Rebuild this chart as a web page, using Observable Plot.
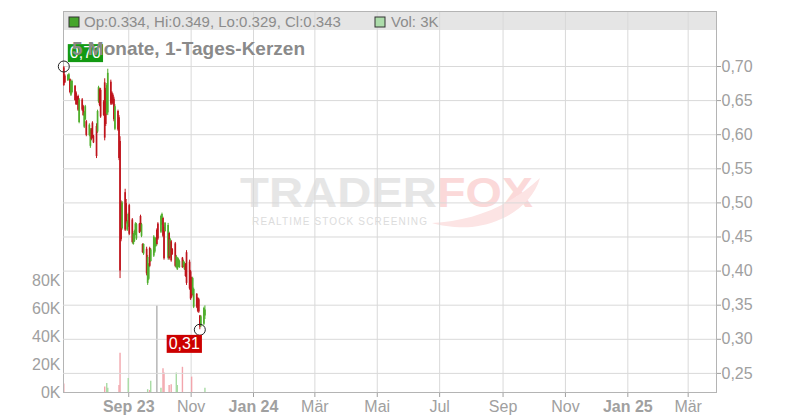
<!DOCTYPE html>
<html><head><meta charset="utf-8">
<script src="https://cdn.jsdelivr.net/npm/d3@7"></script>
<script src="https://cdn.jsdelivr.net/npm/@observablehq/plot@0.6"></script>
<style>
body{margin:0;background:#fff;font-family:"Liberation Sans",Arial,sans-serif}
#wrap{position:relative;width:800px;height:420px;overflow:hidden}
#wrap > svg{position:absolute;left:0;top:0}
</style></head><body><div id="wrap"></div>
<script>
// ---- data ----
const dates = [
"2023-06-29","2023-06-30",
"2023-07-03","2023-07-04","2023-07-05","2023-07-06","2023-07-07","2023-07-10","2023-07-11","2023-07-12","2023-07-13","2023-07-14","2023-07-17","2023-07-18","2023-07-19","2023-07-20","2023-07-21","2023-07-24","2023-07-25","2023-07-26","2023-07-27","2023-07-28","2023-07-31",
"2023-08-01","2023-08-02","2023-08-03","2023-08-04","2023-08-07","2023-08-08","2023-08-09","2023-08-10","2023-08-11","2023-08-14","2023-08-15","2023-08-16","2023-08-17","2023-08-18","2023-08-21","2023-08-22","2023-08-23","2023-08-24","2023-08-25","2023-08-28","2023-08-29","2023-08-30","2023-08-31",
"2023-09-01","2023-09-04","2023-09-05","2023-09-06","2023-09-07","2023-09-08","2023-09-11","2023-09-12","2023-09-13","2023-09-14","2023-09-15","2023-09-18","2023-09-19","2023-09-20","2023-09-21","2023-09-22","2023-09-25","2023-09-26","2023-09-27","2023-09-28","2023-09-29",
"2023-10-02","2023-10-03","2023-10-04","2023-10-05","2023-10-06","2023-10-09","2023-10-10","2023-10-11","2023-10-12","2023-10-13","2023-10-16","2023-10-17","2023-10-18","2023-10-19","2023-10-20","2023-10-23","2023-10-24","2023-10-25","2023-10-26","2023-10-27","2023-10-30","2023-10-31",
"2023-11-01","2023-11-02","2023-11-03","2023-11-06","2023-11-07","2023-11-08","2023-11-09","2023-11-10","2023-11-13","2023-11-14"];

const open = [.698,.686,.679,.681,.681,.658,.662,.671,.661,.655, .656,.618,.651,.641,.611,.622,.619,.599,.583,.607,
 .617,.598,.612,.604,.648,.666,.665,.648,.676,.665, .630,.632,.677,.661,.658,.652,.608,.634,.625,.590,
 .500,.462,.515,.499,.460,.466,.496,.475,.439,.443, .454,.447,.469,.480,.451,.439,.425,.432,.382,.388,
 .433,.414,.422,.428,.436,.460,.469,.457,.468,.477, .464,.458,.419,.455,.421,.443,.432,.440,.405,.402,
 .406,.405,.419,.406,.402,.410,.427,.413,.399,.389, .366,.347,.366,.360,.358,.334,.319,.322,.334];
const high = [.700,.688,.688,.690,.682,.680,.680,.672,.663,.656, .658,.653,.653,.643,.634,.643,.621,.616,.609,.609,
 .619,.599,.616,.636,.671,.668,.668,.650,.682,.668, .675,.696,.680,.663,.660,.655,.644,.636,.628,.597,
 .503,.502,.520,.505,.474,.485,.498,.477,.455,.460, .471,.470,.470,.482,.470,.440,.440,.435,.423,.411,
 .435,.433,.452,.449,.449,.462,.471,.482,.485,.479, .467,.471,.470,.457,.448,.445,.433,.442,.423,.420,
 .419,.416,.420,.416,.413,.411,.430,.416,.401,.391, .391,.375,.367,.361,.360,.335,.335,.347,.349];
const low = [.671,.675,.678,.680,.660,.656,.660,.649,.643,.643, .634,.616,.634,.627,.609,.621,.597,.597,.580,.591,
 .594,.587,.565,.602,.646,.641,.624,.627,.591,.612, .628,.628,.643,.643,.644,.619,.606,.605,.562,.389,
 .443,.460,.458,.469,.458,.464,.452,.440,.438,.442, .452,.445,.455,.457,.449,.426,.423,.393,.379,.386,
 .405,.413,.420,.426,.435,.437,.445,.455,.467,.449, .416,.457,.416,.416,.419,.413,.423,.405,.404,.401,
 .405,.404,.404,.405,.401,.391,.379,.372,.357,.360, .364,.345,.345,.339,.338,.314,.317,.320,.329];
const close = [.672,.676,.687,.688,.662,.678,.678,.650,.644,.645, .636,.651,.636,.628,.632,.641,.599,.614,.607,.593,
 .596,.588,.568,.634,.669,.643,.626,.628,.595,.615, .672,.690,.645,.645,.646,.622,.641,.607,.565,.400,
 .446,.500,.460,.472,.472,.483,.454,.442,.454,.458, .469,.468,.456,.458,.468,.427,.439,.396,.420,.409,
 .407,.431,.450,.447,.448,.439,.447,.480,.483,.451, .418,.470,.467,.418,.446,.415,.424,.407,.421,.418,
 .417,.414,.405,.414,.411,.392,.382,.374,.359,.362, .389,.373,.347,.341,.340,.318,.333,.345,.343];
// volume in thousands
const volume = [6,0,0,0,0,0,0,0,0,0, 0,0,0,0,0,0,0,0,0,0, 0,0,0,0,0,0,0,0,4,0,
 6.5,3,0,0,0,0,0,0,5,28, 0,0,0,0,0,10,0,0,0,0, 0,0,0,0,0,0,0,0,2,0,
 1.5,8,0,0,0,62,0,3,0,17, 14,0,0,5,0,5.5,0,0,14,5, 0,0,18,0,0,0,0,0,0,11,
 0,0,0,0,0,0,0,0,3];
const neutralVolume = [65]; // index of the grey volume bar

const priceTicks = [0.25,0.30,0.35,0.40,0.45,0.50,0.55,0.60,0.65,0.70];
const volTicks = [0,20,40,60,80];
const xTickDates = ["2023-09-01","2023-11-01","2024-01-01","2024-03-01","2024-05-01","2024-07-01","2024-09-01","2024-11-01","2025-01-01","2025-03-01"];
const xTickLabels = ["Sep 23","Nov","Jan 24","Mär","Mai","Jul","Sep","Nov","Jan 25","Mär"];
const xTickBold = [true,false,true,false,false,false,false,false,true,false];

const title = "5 Monate, 1-Tages-Kerzen";
const legendText = "Op:0.334, Hi:0.349, Lo:0.329, Cl:0.343";
const legendVol = "Vol: 3K";

// ---- layout ----
const W=800, H=420, mL=63, mR=84, mT=11, mB=28;
const FONT = "Liberation Sans, Arial, sans-serif";
const xDomain = [new Date("2023-06-29T05:00Z"), new Date("2025-03-28T17:00Z")];
const priceDomain = [0.22199, 0.78065];
const volDomain = [0, 272.14];
const RED="#bf141c", GREEN="#4fae2c", VRED="#f2a5ac", VGREEN="#a8dba4", VGREY="#b0b0b0";

const candles = dates.map((d,i)=>({date:new Date(d+"T12:00Z"), o:open[i], h:high[i], l:low[i], c:close[i],
  v:volume[i], up: close[i]>=open[i], neutral: neutralVolume.includes(i)}));
const ticks = xTickDates.map(d=>new Date(d+"T00:00Z"));
const labelOf = d => xTickLabels[ticks.findIndex(t=>+t===+d)];
const boldTicks = ticks.filter((t,i)=>xTickBold[i]);
const normTicks = ticks.filter((t,i)=>!xTickBold[i]);
const comma = v => v.toFixed(2).replace(".", ",");

const wrap = document.getElementById("wrap");
const NS="http://www.w3.org/2000/svg";

// background layer: header band + watermark
const bg = d3.create("svg").attr("width",W).attr("height",H);
bg.append("rect").attr("x",mL).attr("y",mT).attr("width",W-mL-mR).attr("height",19).attr("fill","#e5e5e5");
bg.append("text").attr("x",240).attr("y",207).attr("font-family",FONT).attr("font-weight","bold").attr("font-size",42)
  .attr("textLength",197).attr("lengthAdjust","spacingAndGlyphs").attr("fill","#e6e6e6").text("TRADER");
bg.append("text").attr("x",437).attr("y",207).attr("font-family",FONT).attr("font-weight","bold").attr("font-size",42)
  .attr("textLength",96).attr("lengthAdjust","spacingAndGlyphs").attr("fill","#fbd9d9").text("FOX");
bg.append("path").attr("d","M432,223 C470,221 508,208 540,178 C532,206 502,224 472,227 C456,228 442,226 432,223 Z").attr("fill","#fce4e4");
bg.append("text").attr("x",252).attr("y",225).attr("font-family",FONT).attr("font-size",10)
  .attr("textLength",175).attr("lengthAdjust","spacing").attr("fill","#dcdcdc").text("REALTIME STOCK SCREENING");
wrap.appendChild(bg.node());

// volume layer with x axis, grid and frame
const volPlot = Plot.plot({
  width: W, height: H, marginLeft: mL, marginRight: mR, marginTop: mT, marginBottom: mB,
  style: {background: "transparent", fontFamily: FONT, fontSize: "16px", overflow: "visible"},
  x: {type: "utc", domain: xDomain, label: null},
  y: {domain: volDomain, label: null},
  marks: [
    Plot.gridX({ticks, stroke: "#d9d9d9", strokeOpacity: 1}),
    Plot.ruleX(candles.filter(d=>d.v>0), {x: "date", y1: 0, y2: "v", strokeWidth: 1.4,
      stroke: d => d.neutral ? VGREY : (d.up ? VGREEN : VRED)}),
    Plot.axisY({ticks: volTicks, tickFormat: d => d + "K", tickSize: 0, tickPadding: 3, color: "#a0a0a0", fontSize: 16, anchor: "left", label: null}),
    Plot.axisX({ticks: normTicks, tickFormat: labelOf, tickSize: 5, tickPadding: 3, color: "#a0a0a0", fontSize: 16, label: null}),
    Plot.axisX({ticks: boldTicks, tickFormat: labelOf, tickSize: 5, tickPadding: 3, color: "#a0a0a0", fontSize: 16, fontWeight: "bold", label: null}),
    Plot.frame({stroke: "#b4b4b4"})
  ]
});
wrap.appendChild(volPlot);

// price layer
const first = candles[0];
const minC = candles.reduce((a,b)=> b.l < a.l ? b : a);
const pricePlot = Plot.plot({
  width: W, height: H, marginLeft: mL, marginRight: mR, marginTop: mT, marginBottom: mB,
  style: {background: "transparent", fontFamily: FONT, fontSize: "16px", overflow: "visible"},
  x: {type: "utc", domain: xDomain, axis: null, label: null},
  y: {domain: priceDomain, label: null},
  marks: [
    Plot.gridY({ticks: priceTicks, stroke: "#d9d9d9", strokeOpacity: 1}),
    Plot.axisY({ticks: priceTicks, tickFormat: comma, anchor: "right", tickSize: 4, tickPadding: 1, color: "#a0a0a0", fontSize: 16, label: null}),
    Plot.ruleX(candles, {x: "date", y1: "l", y2: "h", stroke: d => d.up ? GREEN : RED, strokeWidth: 1}),
    Plot.ruleX(candles, {x: "date", y1: "o", y2: "c", stroke: d => d.up ? GREEN : RED, strokeWidth: 1.7}),
    Plot.dot([first], {x: "date", y: "h", r: 5.5, stroke: "#222", fill: "none", strokeWidth: 1}),
    Plot.dot([minC], {x: "date", y: "l", r: 5.5, stroke: "#222", fill: "none", strokeWidth: 1}),
    Plot.text([first], {x: "date", y: "h", text: d => comma(d.h), textAnchor: "start", dx: 6, dy: -13.5,
      fill: "white", fontSize: 16, ariaLabel: () => "lbl-hi"}),
    Plot.text([minC], {x: "date", y: "l", text: d => comma(d.l), textAnchor: "end", dx: 0, dy: 14,
      fill: "white", fontSize: 16, ariaLabel: () => "lbl-lo"})
  ]
});
wrap.appendChild(pricePlot);

function boxLabels(svg, aria, fill){
  const els = [];
  svg.querySelectorAll(`[aria-label="${aria}"]`).forEach(e=>{
    if (e.tagName.toLowerCase()==="text") els.push(e);
    else e.querySelectorAll("text").forEach(t=>els.push(t));
  });
  els.forEach(t=>{
    const b=t.getBBox();
    const r=document.createElementNS(NS,"rect");
    r.setAttribute("x",b.x-2); r.setAttribute("y",b.y); r.setAttribute("width",b.width+4); r.setAttribute("height",b.height+1);
    r.setAttribute("fill",fill);
    const tr=t.getAttribute("transform"); if(tr) r.setAttribute("transform",tr);
    t.parentNode.insertBefore(r,t);
  });
}
boxLabels(pricePlot, "lbl-hi", "#139a13");
boxLabels(pricePlot, "lbl-lo", "#cc0000");

// foreground: legend + title
const fg = d3.create("svg").attr("width",W).attr("height",H).style("pointer-events","none");
fg.append("rect").attr("x",69).attr("y",17).attr("width",10).attr("height",10).attr("fill","#46a52c").attr("stroke","#333");
fg.append("text").attr("x",84).attr("y",27).attr("font-family",FONT).attr("font-size",15).attr("fill","#8c8c8c").text(legendText);
fg.append("rect").attr("x",375).attr("y",17).attr("width",10).attr("height",10).attr("fill","#acdcaa").attr("stroke","#333");
fg.append("text").attr("x",391).attr("y",27).attr("font-family",FONT).attr("font-size",15).attr("fill","#8c8c8c").text(legendVol);
fg.append("text").attr("x",72).attr("y",55).attr("font-family",FONT).attr("font-size",19).attr("font-weight","bold").attr("fill","#8a8a8a").text(title);
wrap.appendChild(fg.node());
</script></body></html>
